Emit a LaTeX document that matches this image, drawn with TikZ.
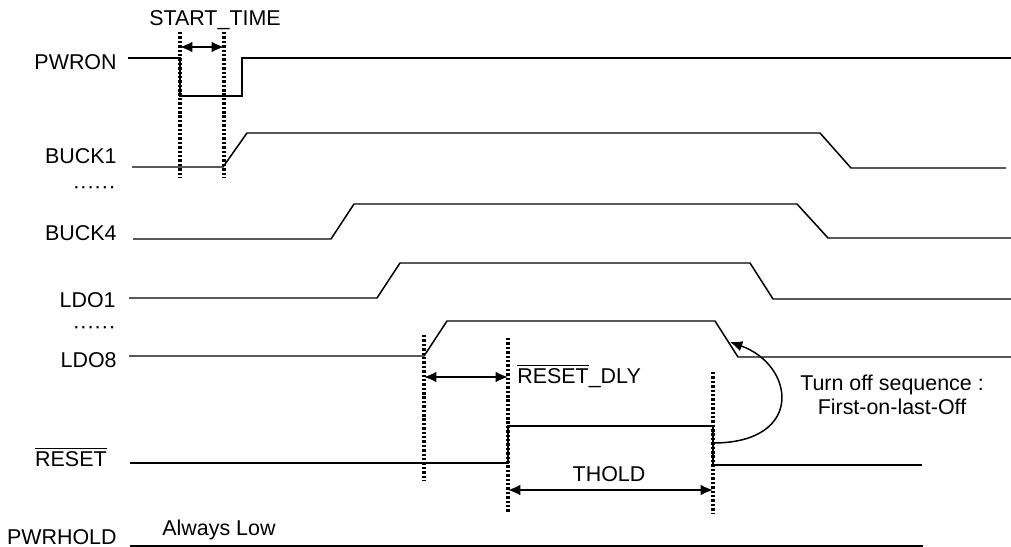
\documentclass[tikz,border=0pt]{standalone}
\usepackage{fontspec}
\setmainfont{Liberation Sans}
\usetikzlibrary{arrows.meta}

\tikzset{
  wave/.style={line width=0.85pt, line join=miter},
  marker/.style={line width=2pt, dash pattern=on 1.4pt off 1.1pt},
  span/.style={line width=0.85pt, {Latex[length=7pt,width=6pt]}-{Latex[length=7pt,width=6pt]}},
  signame/.style={anchor=east, inner sep=0pt},
}

\begin{document}
\begin{tikzpicture}[x=0.02cm, y=-0.02cm, every node/.style={font=\fontsize{12.2}{14}\selectfont}]

    \useasboundingbox (0,0) rectangle (1011,547);

    % Signal names
    \node[signame] (pwron) at (117,62) {PWRON};
    \node[signame] (buck1) at (117,156) {BUCK1};
    \node[signame] (dots1) at (116,190) {\textperiodcentered\textperiodcentered\textperiodcentered\textperiodcentered\textperiodcentered\textperiodcentered};
    \node[signame] (buck4) at (117,233) {BUCK4};
    \node[signame] (ldo1) at (116,300) {LDO1};
    \node[signame] (dots2) at (116,330) {\textperiodcentered\textperiodcentered\textperiodcentered\textperiodcentered\textperiodcentered\textperiodcentered};
    \node[signame] (ldo8) at (117,360) {LDO8};
    \node[signame] (rst) at (107,457) {$\overline{\mbox{RESET}}$};
    \node[signame] (pwrhold) at (117,537) {PWRHOLD};

    % Waveforms
    \draw[wave] (128,58) -- (180,58) -- (180,96) -- (242,96) -- (242,58) -- (1011,58);
    \draw[wave] (132,167) -- (223,167) -- (247,133) -- (820,133) -- (851,168) -- (1006,168);
    \draw[wave] (133,239) -- (331,239) -- (354,204) -- (797,204) -- (828,238) -- (1011,238);
    \draw[wave] (129,298) -- (377,298) -- (400,263) -- (750,263) -- (773,299) -- (1011,299);
    \draw[wave] (129,356) -- (424,356) -- (447,321) -- (715,321) -- (738,357) -- (1011,357);
    \draw[wave] (130,463) -- (508,463) -- (508,426) -- (713,426) -- (713,465) -- (922,465);
    \draw[wave] (130,546) -- (923,546);
    \node (low) at (219,530) {Always Low};

    % Timing markers
    \coordinate (m1) at (180,32);  \coordinate (m1b) at (180,178);
    \coordinate (m2) at (224,32);  \coordinate (m2b) at (224,178);
    \coordinate (m3) at (424,335); \coordinate (m3b) at (424,480);
    \coordinate (m4) at (508,338); \coordinate (m4b) at (508,513);
    \coordinate (m5) at (713,372); \coordinate (m5b) at (713,513);
    \foreach \a/\b in {m1/m1b, m2/m2b, m3/m3b, m4/m4b, m5/m5b}
        \draw[marker] (\a) -- (\b);

    % Intervals
    \coordinate (st1) at (180,47);  \coordinate (st2) at (224,47);
    \coordinate (dl1) at (424,377); \coordinate (dl2) at (508,377);
    \coordinate (th1) at (508,490); \coordinate (th2) at (713,490);
    \draw[span] (st1) -- (st2);
    \draw[span] (dl1) -- (dl2);
    \draw[span] (th1) -- (th2);
    \node (starttime) at (215,20) {START\_TIME};
    \node[anchor=west, inner sep=0pt] (rstdly) at (517,376) {$\overline{\mbox{RESET}}$\_DLY};
    \node (thold) at (609,474) {THOLD};

    % Turn off sequence
    \coordinate (offA) at (713,443);
    \coordinate (offB) at (730,342);
    \draw[line width=0.85pt, -{Latex[length=7pt,width=6pt]}] (offA) .. controls (805,443) and (795,365) .. (offB);
    \node[align=center] (offnote) at (892,395) {Turn off sequence :\\First-on-last-Off};

\end{tikzpicture}
\end{document}
